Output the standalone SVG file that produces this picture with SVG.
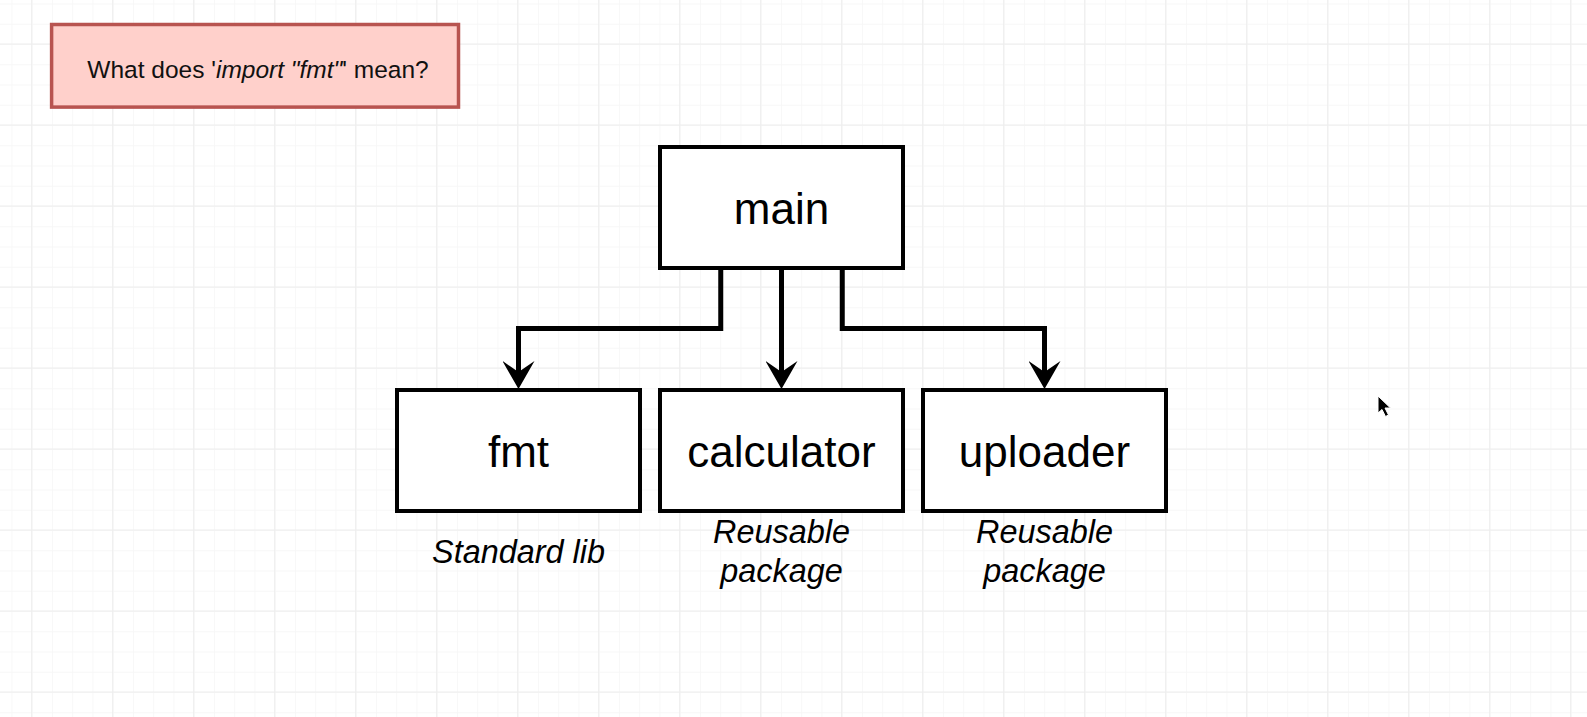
<svg xmlns="http://www.w3.org/2000/svg" width="1587" height="717" viewBox="0 0 1587 717">
  <style>
    .box { fill: #ffffff; stroke: #000000; stroke-width: 4; }
    .note { fill: #ffd0cb; stroke: #b85450; stroke-width: 3.5; }
    .lbl { font-family: "Liberation Sans", Arial, Helvetica, sans-serif; font-size: 44px; fill: #000000; text-anchor: middle; }
    .cap { font-family: "Liberation Sans", Arial, Helvetica, sans-serif; font-size: 32.4px; font-style: italic; fill: #000000; text-anchor: middle; }
    .title { font-family: "Liberation Sans", Arial, Helvetica, sans-serif; font-size: 24.5px; fill: #111111; text-anchor: middle; }
    .edge { fill: none; stroke: #000000; stroke-width: 5; marker-end: url(#arrow); }
  </style>
  <defs>
    <pattern id="minor" x="31.7" y="44" width="20.25" height="20.25" patternUnits="userSpaceOnUse">
      <path d="M0 0.5H20.25M0.5 0V20.25" fill="none" stroke="#f7f7f7" stroke-width="1"/>
    </pattern>
    <pattern id="major" x="31.2" y="43.5" width="81" height="81" patternUnits="userSpaceOnUse">
      <path d="M0 0.5H81M0.5 0V81" fill="none" stroke="#ededed" stroke-width="1"/>
    </pattern>
    <marker id="arrow" viewBox="0 0 28 32" markerWidth="28" markerHeight="32" refX="11" refY="16" orient="auto" markerUnits="userSpaceOnUse">
      <path d="M0 0L28 16L0 32L11 16Z" fill="#000000"/>
    </marker>
  </defs>

  <rect width="1587" height="717" fill="#ffffff"/>
  <rect width="1587" height="717" fill="url(#minor)"/>
  <rect width="1587" height="717" fill="url(#major)"/>

  <g id="note">
    <rect class="note" x="51.6" y="24.5" width="406.9" height="82.6"/>
    <text class="title" x="258" y="77.5">What does '<tspan font-style="italic">import "fmt"</tspan>' mean?</text>
  </g>

  <g id="connectors">
    <path class="edge" d="M720.75 268V328.5H518.5V372"/>
    <path class="edge" d="M781.5 268V372"/>
    <path class="edge" d="M842.25 268V328.5H1044.5V372"/>
  </g>

  <g id="main">
    <rect class="box" x="660" y="147" width="243" height="121"/>
    <text class="lbl" x="781.5" y="223.5">main</text>
  </g>

  <g id="fmt">
    <rect class="box" x="397" y="390" width="243" height="121"/>
    <text class="lbl" x="518.5" y="466.5">fmt</text>
    <text class="cap" x="518.5" y="562.5">Standard lib</text>
  </g>

  <g id="calculator">
    <rect class="box" x="660" y="390" width="243" height="121"/>
    <text class="lbl" x="781.5" y="466.5">calculator</text>
    <text class="cap" x="781.5" y="543">Reusable</text>
    <text class="cap" x="781.5" y="581.5">package</text>
  </g>

  <g id="uploader">
    <rect class="box" x="923" y="390" width="243" height="121"/>
    <text class="lbl" x="1044.5" y="466.5">uploader</text>
    <text class="cap" x="1044.5" y="543">Reusable</text>
    <text class="cap" x="1044.5" y="581.5">package</text>
  </g>

  <g id="cursor">
    <path d="M1378 396V413L1382 409.5L1385.5 416.5L1388.5 415L1385 408H1390.5Z" fill="#000000" stroke="#ffffff" stroke-width="1" stroke-linejoin="round"/>
  </g>
</svg>
